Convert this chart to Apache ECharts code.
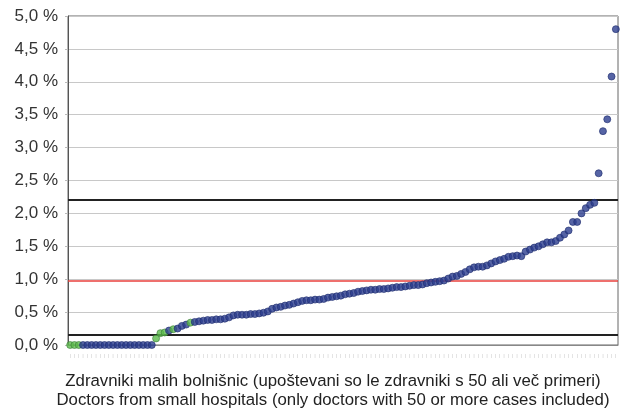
<!DOCTYPE html>
<html>
<head>
<meta charset="utf-8">
<script src="https://cdn.jsdelivr.net/npm/echarts@6/dist/echarts.min.js"></script>
<style>
    html, body { margin: 0; padding: 0; background: #fff; }
    #chart { width: 622px; height: 409px; }
</style>
</head>
<body>
<div id="chart"></div>
<script>
    // share of cases per doctor, %, sorted ascending (128 doctors)
    const rates = [
        0, 0, 0, 0, 0, 0, 0, 0, 0, 0, 0, 0, 0, 0, 0, 0, 0, 0, 0, 0,
        0.10, 0.18, 0.19, 0.22, 0.24, 0.25, 0.29, 0.31, 0.34, 0.35,
        0.36, 0.37, 0.38, 0.38, 0.39, 0.39, 0.40, 0.42, 0.45, 0.46,
        0.46, 0.46, 0.47, 0.47, 0.48, 0.49, 0.51, 0.55, 0.57, 0.58,
        0.60, 0.61, 0.63, 0.65, 0.67, 0.68, 0.68, 0.69, 0.69, 0.70,
        0.72, 0.73, 0.74, 0.75, 0.77, 0.78, 0.79, 0.81, 0.82, 0.83,
        0.84, 0.84, 0.85, 0.85, 0.86, 0.87, 0.88, 0.88, 0.89, 0.90,
        0.91, 0.91, 0.92, 0.94, 0.95, 0.96, 0.97, 0.98, 1.01, 1.04,
        1.05, 1.08, 1.11, 1.15, 1.18, 1.19, 1.19, 1.21, 1.24, 1.27,
        1.29, 1.31, 1.34, 1.35, 1.36, 1.35, 1.42, 1.45, 1.48, 1.50,
        1.53, 1.56, 1.56, 1.58, 1.63, 1.68, 1.74, 1.87, 1.87, 2.00,
        2.08, 2.13, 2.16, 2.61, 3.25, 3.43, 4.08, 4.80
    ]
    // positions (0-based) of the doctors drawn in green
    const greenDoctors = [0, 1, 2, 20, 21, 22, 24, 28]
    const doctors = rates.map((v, i) => 'D' + (i + 1))
    // horizontal reference lines, %
    const upperLimit = 2.2
    const average = 0.97
    const lowerLimit = 0.15
    const titleLines = [
        'Zdravniki malih bolnišnic (upoštevani so le zdravniki s 50 ali več primeri)',
        'Doctors from small hospitals (only doctors with 50 or more cases included)'
    ]

    const chart = echarts.init(document.getElementById('chart'))
    const font = '"Liberation Sans", Arial, sans-serif'

    const option = {
        animation: false,
        grid: {
            left: 68,
            right: 4,
            top: 16,
            bottom: 64,
            show: true,
            borderColor: '#666',
            borderWidth: 1
        },
        xAxis: {
            type: 'category',
            data: doctors,
            boundaryGap: true,
            axisLine: { lineStyle: { color: '#888', width: 1 } },
            axisTick: { show: false },
            axisLabel: {
                interval: 0,
                margin: 9,
                formatter: () => '|',
                fontSize: 4,
                color: '#b4b4b4',
                fontFamily: font
            }
        },
        yAxis: {
            type: 'value',
            min: 0,
            max: 5,
            interval: 0.5,
            axisLine: { show: true, lineStyle: { color: '#555' } },
            axisTick: { show: true, length: 3, lineStyle: { color: '#bbb' } },
            splitLine: { lineStyle: { color: '#c8c8c8', width: 1 } },
            axisLabel: {
                margin: 10,
                fontSize: 17,
                color: '#333',
                fontFamily: font,
                formatter: v => v.toFixed(1).replace('.', ',') + ' %'
            }
        },
        graphic: titleLines.map((t, i) => ({
            type: 'text',
            x: 333,
            y: 381 + i * 19,
            style: {
                text: t,
                fill: '#222',
                font: '16.8px ' + font,
                textAlign: 'center',
                textVerticalAlign: 'middle'
            }
        })),
        series: [{
            type: 'scatter',
            symbolSize: 7,
            z: 3,
            data: rates.map((v, i) => ({
                value: v,
                itemStyle: greenDoctors.includes(i)
                    ? { color: '#5dbb4c', borderColor: '#3d7f3a', borderWidth: 0.8 }
                    : { color: '#2c3d8e', borderColor: '#1f2d6e', borderWidth: 0.8 }
            })),
            markLine: {
                silent: true,
                symbol: 'none',
                label: { show: false },
                z: 2,
                data: [
                    { yAxis: upperLimit, lineStyle: { color: '#222', width: 2, type: 'solid' } },
                    { yAxis: average, lineStyle: { color: '#e8413c', width: 1.5, type: 'solid' } },
                    { yAxis: lowerLimit, lineStyle: { color: '#222', width: 2, type: 'solid' } }
                ]
            }
        }]
    }

    chart.setOption(option)
</script>
</body>
</html>
